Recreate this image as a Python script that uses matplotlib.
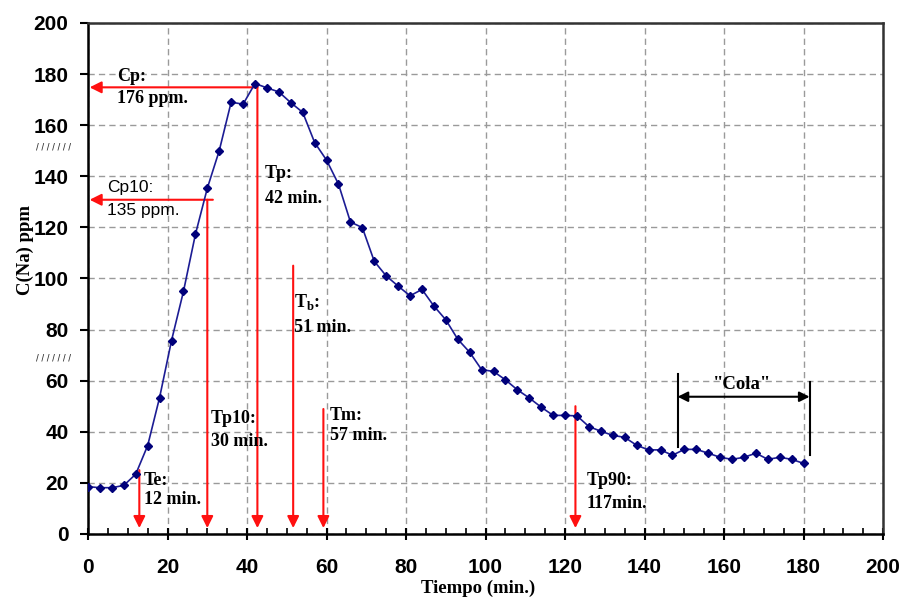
import matplotlib
matplotlib.use("Agg")
import matplotlib.pyplot as plt
from matplotlib.ticker import MultipleLocator

# sampled sodium concentration, every 3 minutes
tiempo = [0, 3, 6, 9, 12, 15, 18, 21, 24, 27, 30, 33, 36, 39, 42, 45, 48, 51, 54, 57,
          60, 63, 66, 69, 72, 75, 78, 81, 84, 87, 90, 93, 96, 99, 102, 105, 108, 111,
          114, 117, 120, 123, 126, 129, 132, 135, 138, 141, 144, 147, 150, 153, 156,
          159, 162, 165, 168, 171, 174, 177, 180]
conc_na = [18.5, 18.1, 18.1, 19.0, 23.4, 34.6, 53.4, 75.7, 94.9, 117.2, 135.3, 150.0,
           169.0, 168.2, 176.3, 174.6, 173.0, 168.8, 165.0, 153.2, 146.3, 136.9, 122.1,
           119.9, 106.7, 101.0, 97.0, 93.2, 95.7, 89.2, 83.8, 76.2, 71.1, 64.3, 63.6,
           60.3, 56.4, 53.2, 49.6, 46.4, 46.4, 46.2, 42.0, 40.2, 38.6, 37.8, 34.7, 32.9,
           32.9, 30.8, 33.1, 33.1, 31.6, 30.0, 29.2, 30.0, 31.6, 29.2, 30.0, 29.2, 27.6]

# vertical red markers: (x, top of arrow)
v_arrows = [(12.9, 25.0), (30.0, 130.8), (42.6, 175.8), (51.6, 105.0),
            (59.2, 48.9), (122.6, 50.0)]
# horizontal red markers: (y, start x)
h_arrows = [(174.8, 42.6), (130.8, 31.4)]

# labels: (x, y line1, y line2, line1, line2)
serif_labels = [
    (7.3, 178.9, 170.3, "Cp:", "176 ppm."),
    (44.5, 140.9, 131.1, "Tp:", "42 min."),
    (51.9, 90.9, 80.9, r"T$_\mathregular{b}$:", "51 min."),
    (30.9, 45.3, 36.1, "Tp10:", "30 min."),
    (60.9, 46.2, 38.7, "Tm:", "57 min."),
    (14.1, 21.1, 13.3, "Te:", "12 min."),
    (125.4, 21.1, 12.0, "Tp90:", "117min."),
]
cola_x = (148.3, 181.5)

fig = plt.figure(figsize=(9.03, 6.04), dpi=100)
ax = fig.add_axes([0.0975, 0.116, 0.8805, 0.846])

ax.plot(tiempo, conc_na, "-", color="#1c1c94", lw=1.2, marker="D", ms=4.5,
        mfc="#00007a", mec="#00007a", zorder=5)

red_arrow = dict(arrowstyle="-|>,head_length=0.7,head_width=0.35", color="#ff1010",
                 lw=1.5, shrinkA=0, shrinkB=0)
for x, top in v_arrows:
    ax.annotate("", xy=(x, 2.3), xytext=(x, top), arrowprops=red_arrow, zorder=4)
for y, x0 in h_arrows:
    ax.annotate("", xy=(0.4, y), xytext=(x0, y), arrowprops=red_arrow, zorder=4)

for x, y1, y2, t1, t2 in serif_labels:
    ax.text(x, y1, t1, family="Liberation Serif", weight="bold", fontsize=13,
            va="center", ha="left", zorder=6)
    ax.text(x, y2, t2, family="Liberation Serif", weight="bold", fontsize=13,
            va="center", ha="left", zorder=6)
ax.text(4.8, 135.4, "Cp10:", family="Liberation Sans", fontsize=12.5, va="center")
ax.text(4.8, 126.5, "135 ppm.", family="Liberation Sans", fontsize=12.5, va="center")

# "Cola" bracket
ax.plot([cola_x[0]] * 2, [34.2, 62.6], color="black", lw=1.5)
ax.plot([cola_x[1]] * 2, [30.9, 59.6], color="black", lw=1.5)
ax.annotate("", xy=(cola_x[0], 53.7), xytext=(cola_x[1], 53.7),
            arrowprops=dict(arrowstyle="<|-|>,head_length=0.6,head_width=0.3",
                            color="black", lw=1.5, shrinkA=0, shrinkB=0))
ax.text(sum(cola_x) / 2 - 0.4, 58.3, '"Cola"', family="Liberation Serif",
        weight="bold", fontsize=13.5, ha="center", va="center")

ax.set_xlim(0, 200)
ax.set_ylim(0, 200)
ax.xaxis.set_major_locator(MultipleLocator(20))
ax.xaxis.set_minor_locator(MultipleLocator(5))
ax.yaxis.set_major_locator(MultipleLocator(20))
ax.grid(True, which="major", color="#9a9a9a", ls=(0, (4.5, 3)), lw=1)
ax.set_axisbelow(True)

for lab in ax.get_xticklabels() + ax.get_yticklabels():
    lab.set_family("Liberation Sans")
    lab.set_weight("bold")
    lab.set_fontsize(15)
ax.tick_params(axis="x", which="major", direction="inout", length=8, width=1.5, pad=13)
ax.tick_params(axis="x", which="minor", direction="in", length=4, width=1.2)
ax.tick_params(axis="y", which="major", direction="out", length=6, width=1.5, pad=8)
ax.tick_params(top=False, right=False)
for side in ["left", "bottom"]:
    ax.spines[side].set_linewidth(1.8)
    ax.spines[side].set_color("black")
for side in ["top", "right"]:
    ax.spines[side].set_linewidth(1.8)
    ax.spines[side].set_color("#333333")

fig.text(0.53, 0.012, "Tiempo (min.)", family="Liberation Serif", weight="bold",
         fontsize=13.5, ha="center", va="bottom")
fig.text(0.028, 0.586, "C(Na) ppm", family="Liberation Serif", weight="bold",
         fontsize=13.5, rotation=90, ha="center", va="center")

# axis-break hatch marks at the left
for yf in (1 - 147 / 604, 1 - 358 / 604):
    fig.text(0.040, yf, "/ / / / / / /", fontsize=5.5, color="#333333", weight="bold",
             ha="left", va="center")

fig.savefig("out.png", dpi=100)
